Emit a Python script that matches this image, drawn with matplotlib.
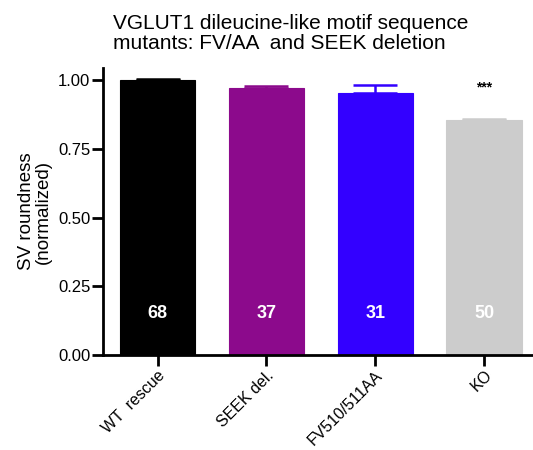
import matplotlib
matplotlib.use("Agg")
import matplotlib.pyplot as plt

# Group data
groups = ["WT  rescue", "SEEK del.", "FV510/511AA", "KO"]
means = [1.000, 0.972, 0.954, 0.854]
sems = [0.005, 0.007, 0.029, 0.007]
n_cells = [68, 37, 31, 50]
colors = ["#000000", "#8C0A8C", "#3300FF", "#CCCCCC"]
sig_labels = ["", "", "", "***"]
y_ticks = [0.00, 0.25, 0.50, 0.75, 1.00]

plt.rcParams["font.family"] = ["Liberation Sans", "DejaVu Sans"]

fig = plt.figure(figsize=(5.33, 4.5), dpi=100)
ax = fig.add_axes([0.193, 0.211, 0.807, 0.638])

x = list(range(len(groups)))
ax.bar(x, means, width=0.69, color=colors, edgecolor=colors, linewidth=0.8, zorder=2)

# Upward-only error bars in each bar's colour
for xi, m, s, c in zip(x, means, sems, colors):
    ax.errorbar(xi, m, yerr=[[0], [s]], fmt="none", ecolor=c,
                elinewidth=1.8, capsize=16, capthick=1.8, zorder=3)

# Cell counts inside the bars
for xi, n in zip(x, n_cells):
    ax.text(xi, 0.153, str(n), ha="center", va="center", color="white",
            fontsize=13, fontweight="bold")

# Significance marks
for xi, lab in zip(x, sig_labels):
    if lab:
        ax.text(xi, 0.975, lab, ha="center", va="center", fontsize=10,
                fontweight="bold")

ax.set_xlim(-0.503, 3.45)
ax.set_ylim(0, 1.045)
ax.set_yticks(y_ticks)
ax.set_yticklabels([f"{v:.2f}" for v in y_ticks], fontsize=12)
ax.set_xticks(x)
ax.set_xticklabels(groups, rotation=45, ha="right", rotation_mode="anchor",
                   fontsize=11.5)

for side in ("top", "right"):
    ax.spines[side].set_visible(False)
for side in ("left", "bottom"):
    ax.spines[side].set_linewidth(2)
ax.tick_params(axis="both", direction="out", length=8, width=2, pad=1)

ax.set_ylabel("SV roundness\n(normalized)", fontsize=13.5, linespacing=1.0)
ax.yaxis.set_label_coords(-0.119, 0.5)
fig.text(0.212, 0.968, "VGLUT1 dileucine-like motif sequence\nmutants: FV/AA  and SEEK deletion",
         ha="left", va="top", fontsize=15, linespacing=1.05)

fig.savefig("out.png", dpi=100)
